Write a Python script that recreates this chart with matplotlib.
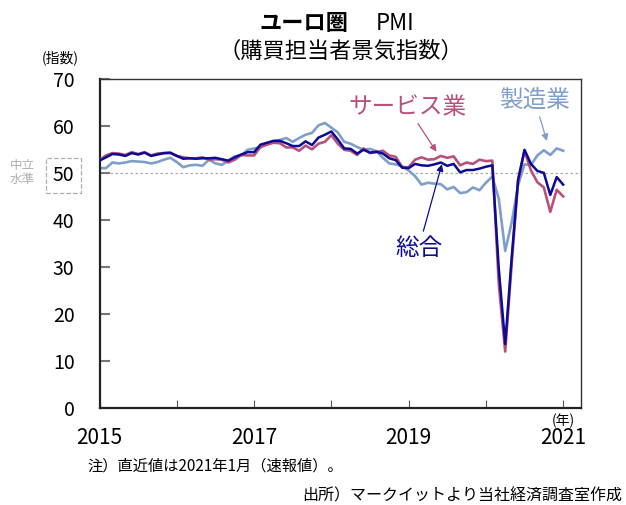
import matplotlib
matplotlib.use("Agg")
import matplotlib.pyplot as plt
import numpy as np

plt.rcParams['font.family'] = ['Noto Sans CJK JP', 'DejaVu Sans']

# Eurozone PMI, monthly, Jan 2015 - Jan 2021
composite = [52.6, 53.3, 54.0, 53.9, 53.6, 54.2, 53.9, 54.3, 53.6, 53.9, 54.2, 54.3,
             53.6, 53.0, 53.1, 53.0, 53.1, 53.1, 53.2, 52.9, 52.6, 53.3, 53.9, 54.4,
             54.4, 56.0, 56.4, 56.8, 56.8, 56.3, 55.7, 55.7, 56.7, 55.9, 57.5, 58.1,
             58.8, 57.1, 55.2, 55.1, 54.1, 54.9, 54.3, 54.5, 54.1, 53.1, 52.7, 51.1,
             51.0, 51.9, 51.6, 51.5, 51.8, 52.2, 51.5, 51.9, 50.1, 50.6, 50.6, 50.9,
             51.3, 51.6, 29.7, 13.6, 31.9, 48.5, 54.9, 51.9, 50.4, 50.0, 45.3, 49.1,
             47.5]
services = [52.7, 53.7, 54.2, 54.1, 53.8, 54.4, 54.0, 54.4, 53.7, 54.1, 54.2, 54.2,
            53.6, 53.3, 53.1, 53.1, 53.3, 52.8, 52.9, 52.8, 52.2, 52.8, 53.8, 53.7,
            53.7, 55.5, 56.0, 56.4, 56.3, 55.4, 55.4, 54.7, 55.8, 55.0, 56.2, 56.6,
            58.0, 56.2, 54.9, 54.7, 53.8, 55.2, 54.2, 54.4, 54.7, 53.7, 53.4, 51.2,
            51.2, 52.8, 53.3, 52.8, 52.9, 53.6, 53.2, 53.5, 51.6, 52.2, 51.9, 52.8,
            52.5, 52.6, 26.4, 12.0, 30.5, 48.3, 54.7, 50.5, 48.0, 46.9, 41.7, 46.4,
            45.0]
manufacturing = [51.0, 51.0, 52.2, 52.0, 52.2, 52.5, 52.4, 52.3, 52.0, 52.3, 52.8, 53.2,
                 52.3, 51.2, 51.6, 51.7, 51.5, 52.8, 52.0, 51.7, 52.6, 53.5, 53.7, 54.9,
                 55.2, 55.4, 56.2, 56.7, 57.0, 57.4, 56.6, 57.4, 58.1, 58.5, 60.1, 60.6,
                 59.6, 58.6, 56.6, 56.2, 55.5, 54.9, 55.1, 54.6, 53.2, 52.0, 51.8, 51.4,
                 50.5, 49.3, 47.5, 47.9, 47.7, 47.6, 46.5, 47.0, 45.7, 45.9, 46.9, 46.3,
                 47.9, 49.2, 44.5, 33.4, 39.4, 47.4, 51.8, 51.7, 53.7, 54.8, 53.8, 55.2,
                 54.7]
year_ticks = [2015, 2016, 2017, 2018, 2019, 2020, 2021]
year_labels = ['2015', '', '2017', '', '2019', '', '2021']
y_ticks = [0, 10, 20, 30, 40, 50, 60, 70]

months = 2015 + np.arange(len(composite)) / 12

c_comp = '#0b0b96'
c_serv = '#b9507a'
c_manu = '#7f9fcb'

fig = plt.figure(figsize=(6.26, 5.05), dpi=100)
ax = fig.add_axes([0.159, 0.192, 0.769, 0.652])

ax.axhline(50, color='#aaaaaa', lw=0.9, ls=(0, (2, 2)), zorder=1)
ax.plot(months, manufacturing, color=c_manu, lw=1.9, zorder=2)
ax.plot(months, services, color=c_serv, lw=1.9, zorder=3)
ax.plot(months, composite, color=c_comp, lw=1.8, zorder=4)

ax.set_xlim(2015, 2021.23)
ax.set_ylim(0, 70)
ax.set_xticks(year_ticks)
ax.set_xticklabels(year_labels, fontsize=15)
ax.set_yticks(y_ticks)
ax.set_yticklabels([str(v) for v in y_ticks], fontsize=14)
ax.tick_params(axis='x', direction='in', length=6, color='#555555', pad=14)
ax.tick_params(axis='y', direction='in', length=7, color='#777777', width=1.5, pad=18)

for s in ['left', 'bottom']:
    ax.spines[s].set_linewidth(1.6)
    ax.spines[s].set_color('#222222')
for s in ['top', 'right']:
    ax.spines[s].set_linewidth(1.0)
    ax.spines[s].set_color('#333333')

# dashed box around the 50 label
lab50 = ax.get_yticklabels()[5]
lab50.set_bbox(dict(boxstyle='square,pad=0.35', fc='none', ec='#b0b0b0', ls='--', lw=0.9))
ax.text(-0.135, 50, '中立\n水準', transform=ax.get_yaxis_transform(), ha='right', va='center',
        fontsize=9, color='#b0b0b0', linespacing=1.1)

ax.annotate('サービス業', xy=(2019.38, 54.0), xytext=(2018.98, 64.0), ha='center', va='center',
            fontsize=17, color=c_serv,
            arrowprops=dict(arrowstyle='-|>', color=c_serv, lw=0.9, mutation_scale=10))
ax.annotate('製造業', xy=(2020.80, 56.2), xytext=(2020.63, 65.5), ha='center', va='center',
            fontsize=17, color=c_manu,
            arrowprops=dict(arrowstyle='-|>', color=c_manu, lw=0.9, mutation_scale=10))
ax.annotate('総合', xy=(2019.44, 52.4), xytext=(2019.13, 34.0), ha='center', va='center',
            fontsize=17, color=c_comp,
            arrowprops=dict(arrowstyle='-|>', color=c_comp, lw=0.9, mutation_scale=10))

fig.text(0.557, 0.954, 'ユーロ圏', ha='right', va='center', fontsize=16, weight='bold')
fig.text(0.600, 0.954, 'PMI', ha='left', va='center', fontsize=16)
fig.text(0.545, 0.899, '（購買担当者景気指数）', ha='center', va='center', fontsize=16)
fig.text(0.096, 0.885, '(指数)', ha='center', va='center', fontsize=10)
fig.text(0.900, 0.166, '(年)', ha='center', va='center', fontsize=10)
fig.text(0.140, 0.077, '注）直近値は2021年1月（速報値）。', ha='left', va='center', fontsize=11)
fig.text(0.994, 0.018, '出所）マークイットより当社経済調査室作成', ha='right', va='center', fontsize=11.5)

fig.savefig('out.png', dpi=100)
